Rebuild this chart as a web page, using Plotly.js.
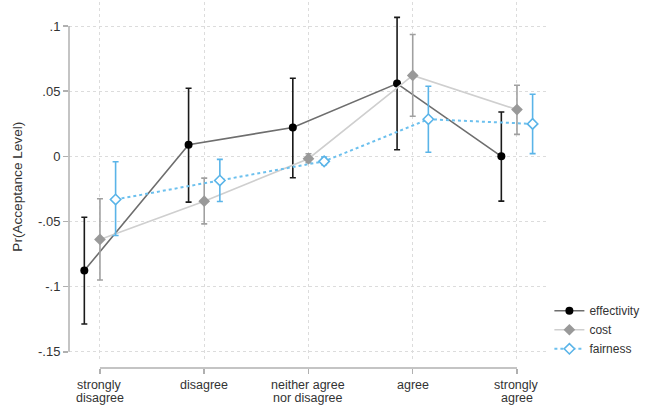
<!DOCTYPE html>
<html>
<head>
<meta charset="utf-8">
<script src="https://cdn.plot.ly/plotly-3.0.1.min.js"></script>
<style>html,body{margin:0;padding:0;background:#fff;}#chart{width:646px;height:405px;}</style>
</head>
<body>
<div id="chart"></div>
<script>
const categories = ['strongly<br>disagree', 'disagree', 'neither agree<br>nor disagree', 'agree', 'strongly<br>agree'];

const effectivity   = [-0.0877, 0.0090, 0.0221, 0.0559, 0.0000];
const effectivityLo = [-0.1287, -0.0351, -0.0164, 0.0051, -0.0344];
const effectivityHi = [-0.0467, 0.0523, 0.0600, 0.1067, 0.0341];

const cost   = [-0.0638, -0.0344, -0.0018, 0.0621, 0.0359];
const costLo = [-0.0949, -0.0518, -0.0048, 0.0308, 0.0169];
const costHi = [-0.0326, -0.0167, 0.0020, 0.0936, 0.0546];

const fairness   = [-0.0331, -0.0185, -0.0038, 0.0285, 0.0249];
const fairnessLo = [-0.0608, -0.0346, -0.0064, 0.0031, 0.0021];
const fairnessHi = [-0.0041, -0.0023, -0.0005, 0.0538, 0.0477];

const yTickVals = [0.1, 0.05, 0, -0.05, -0.1, -0.15];
const yTickText = ['.1', '.05', '0', '-.05', '-.1', '-.15'];
const yTitle = 'Pr(Acceptance Level)';

const idx = categories.map((c, i) => i);
const dodge = 0.15;

function errY(vals, lo, hi, color) {
  return {
    type: 'data', symmetric: false,
    array: hi.map((h, i) => h - vals[i]),
    arrayminus: lo.map((l, i) => vals[i] - l),
    color: color, thickness: 1.6, width: 3
  };
}

const traces = [
  {
    name: 'effectivity', x: idx.map(i => i - dodge), y: effectivity,
    mode: 'lines+markers', type: 'scatter',
    line: {color: '#6e6e6e', width: 1.6},
    marker: {color: '#000000', symbol: 'circle', size: 8},
    error_y: errY(effectivity, effectivityLo, effectivityHi, '#1a1a1a')
  },
  {
    name: 'cost', x: idx, y: cost,
    mode: 'lines+markers', type: 'scatter',
    line: {color: '#cfcfcf', width: 1.6},
    marker: {color: '#999999', symbol: 'diamond', size: 9},
    error_y: errY(cost, costLo, costHi, '#a0a0a0')
  },
  {
    name: 'fairness', x: idx.map(i => i + dodge), y: fairness,
    mode: 'lines+markers', type: 'scatter',
    line: {color: '#6cc0ee', width: 2, dash: 'dot'},
    marker: {color: '#ffffff', symbol: 'diamond', size: 8, line: {color: '#5ab4e8', width: 1.6}},
    error_y: errY(fairness, fairnessLo, fairnessHi, '#5ab4e8')
  }
];

// x tick labels as annotations so the line spacing can match the reference
const annotations = [];
categories.forEach((cat, i) => {
  cat.split('<br>').forEach((line, j) => {
    annotations.push({
      xref: 'x', yref: 'paper', x: i, y: 0,
      text: line, showarrow: false,
      xanchor: 'center', yanchor: 'middle',
      yshift: -16.5 - j * 13.6,
      borderpad: 0,
      font: {size: 12.5, color: '#333333'}
    });
  });
});
annotations.push({
  xref: 'paper', yref: 'paper', x: -0.107, y: 0.495,
  text: yTitle, textangle: -90, showarrow: false,
  xanchor: 'center', yanchor: 'middle',
  font: {size: 13.6, color: '#333333'}
});

const layout = {
  width: 646, height: 405,
  margin: {l: 69, r: 99, t: 2, b: 37},
  paper_bgcolor: '#ffffff', plot_bgcolor: '#ffffff',
  font: {family: 'Arial, "Liberation Sans", sans-serif', size: 12, color: '#333333'},
  showlegend: true,
  legend: {x: 1.005, y: 0.196, xanchor: 'left', yanchor: 'top', font: {size: 12, color: '#333333'}, bgcolor: 'rgba(0,0,0,0)'},
  xaxis: {
    range: [-0.297, 4.288],
    tickmode: 'array', tickvals: idx, ticktext: categories,
    showticklabels: false,
    anchor: 'free', position: 0,
    showline: false, zeroline: false,
    ticks: 'outside', ticklen: 5, tickwidth: 1.5, tickcolor: '#b0b0b0',
    showgrid: true, gridcolor: '#dcdcdc', griddash: 'dot', gridwidth: 1
  },
  yaxis: {
    domain: [0.017, 1],
    range: [-0.1577, 0.1185],
    tickmode: 'array', tickvals: yTickVals, ticktext: yTickText,
    showline: false, zeroline: false,
    ticks: 'outside', ticklen: 5, tickwidth: 1.5, tickcolor: '#b0b0b0',
    showgrid: true, gridcolor: '#dcdcdc', griddash: 'dot', gridwidth: 1,
    tickfont: {size: 13, color: '#333333'}
  },
  annotations: annotations,
  shapes: [
    {type: 'line', xref: 'x', yref: 'paper', x0: 0, x1: 4, y0: 0, y1: 0, line: {color: '#b0b0b0', width: 1.5}},
    {type: 'line', xref: 'paper', yref: 'y', x0: 0, x1: 0, y0: -0.15, y1: 0.1, line: {color: '#b0b0b0', width: 1.5}}
  ]
};

Plotly.newPlot('chart', traces, layout, {displayModeBar: false, staticPlot: true});
</script>
</body>
</html>
